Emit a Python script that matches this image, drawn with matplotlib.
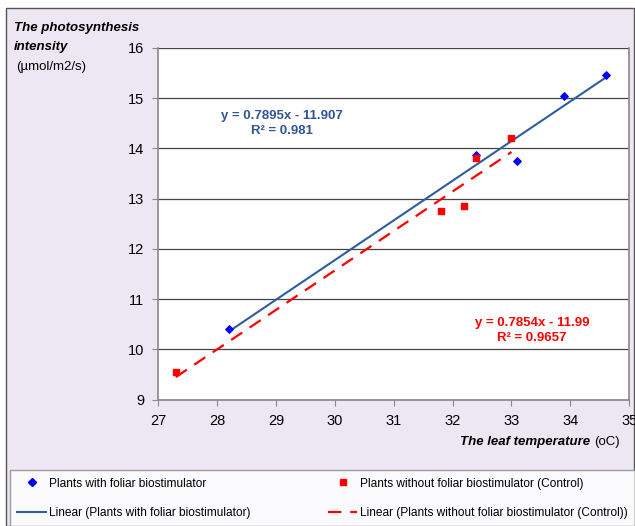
import numpy as np
import matplotlib

matplotlib.use("Agg")
import matplotlib.pyplot as plt
from matplotlib.lines import Line2D
from matplotlib.patches import Rectangle

# leaf temperature (oC) vs photosynthesis intensity (umol/m2/s)
bio_temp = [28.2, 32.4, 33.1, 33.9, 34.6]
bio_photo = [10.40, 13.87, 13.75, 15.05, 15.47]
ctrl_temp = [27.3, 31.8, 32.2, 32.4, 33.0]
ctrl_photo = [9.55, 12.75, 12.85, 13.80, 14.20]

bio_fit = (0.7895, -11.907, 0.981)
ctrl_fit = (0.7854, -11.99, 0.9657)

BLUE_PT = "#0000FF"
BLUE_LN = "#2E5E9E"
RED = "#FF0000"
BG = "#EDE7F3"

plt.rcParams.update({
    "font.family": ["Liberation Sans", "DejaVu Sans"],
    "font.size": 9.5,
})

fig = plt.figure(figsize=(6.35, 5.26), dpi=100)
fig.patches.append(Rectangle((0.009, 0.0), 0.99, 0.985, transform=fig.transFigure,
                             facecolor=BG, edgecolor="#555555", lw=1.0, zorder=-1))

ax = fig.add_axes([0.249, 0.240, 0.742, 0.669])
ax.set_xlim(27, 35)
ax.set_ylim(9, 16)
ax.set_xticks(np.arange(27, 36, 1))
ax.set_yticks(np.arange(9, 17, 1))
ax.grid(axis="y", color="#444444", lw=0.9)
ax.set_axisbelow(True)
for side in ("left", "bottom", "right"):
    ax.spines[side].set_color("#888888")
    ax.spines[side].set_linewidth(1.2)
ax.spines["top"].set_visible(False)
ax.tick_params(direction="out", length=4, color="#888888", labelsize=10.5, pad=6)

ax.scatter(bio_temp, bio_photo, marker="D", s=14, color=BLUE_PT, zorder=3)
ax.scatter(ctrl_temp, ctrl_photo, marker="s", s=18, color=RED, zorder=3)

xb = np.array([min(bio_temp), max(bio_temp)])
ax.plot(xb, bio_fit[0] * xb + bio_fit[1], color=BLUE_LN, lw=1.5, zorder=2)
xc = np.array([min(ctrl_temp), max(ctrl_temp)])
ax.plot(xc, ctrl_fit[0] * xc + ctrl_fit[1], color=RED, lw=1.6,
        dashes=(6, 4), zorder=2)

ax.text(29.1, 14.5, f"y = {bio_fit[0]}x - {abs(bio_fit[1])}\nR² = {bio_fit[2]}",
        color="#2F5597", fontweight="bold", fontsize=9.5, ha="center", va="center",
        linespacing=1.35)
ax.text(33.35, 10.37, f"y = {ctrl_fit[0]}x - {abs(ctrl_fit[1])}\nR² = {ctrl_fit[2]}",
        color=RED, fontweight="bold", fontsize=9.5, ha="center", va="center",
        linespacing=1.35)

# axis titles placed like the spreadsheet original
fig.text(0.022, 0.947, "The photosynthesis", fontweight="bold", style="italic",
         fontsize=9.5, va="center")
fig.text(0.022, 0.91, "intensity", fontweight="bold", style="italic",
         fontsize=9.5, va="center")
fig.text(0.026, 0.873, "(µmol/m2/s)", fontsize=9.5, va="center")

t = fig.text(0.724, 0.159, "The leaf temperature", fontweight="bold", style="italic",
             fontsize=9.5, va="center")
ax.annotate("(oC)", xy=(1, 0.5), xycoords=t, xytext=(3, 0),
            textcoords="offset points", va="center", ha="left", fontsize=9.5,
            annotation_clip=False)

handles = [
    Line2D([], [], ls="none", marker="D", ms=4, color=BLUE_PT),
    Line2D([], [], color=BLUE_LN, lw=1.5),
    Line2D([], [], ls="none", marker="s", ms=4.5, color=RED),
    Line2D([], [], color=RED, lw=1.6, dashes=(6, 4)),
]
labels = [
    "Plants with foliar biostimulator",
    "Linear (Plants with foliar biostimulator)",
    "Plants without foliar biostimulator (Control)",
    "Linear (Plants without foliar biostimulator (Control))",
]
leg = fig.legend(handles, labels, ncol=2, loc="lower left",
                 bbox_to_anchor=(0.016, 0.0, 0.984, 0.11), mode="expand",
                 frameon=True, fancybox=False, fontsize=8.6,
                 handlelength=2.4, handletextpad=0.25, labelspacing=1.45,
                 borderaxespad=0.0, borderpad=0.6, columnspacing=1.0)
leg.get_frame().set_edgecolor("#888888")
leg.get_frame().set_linewidth(1.0)

fig.savefig("out.png", dpi=100)
